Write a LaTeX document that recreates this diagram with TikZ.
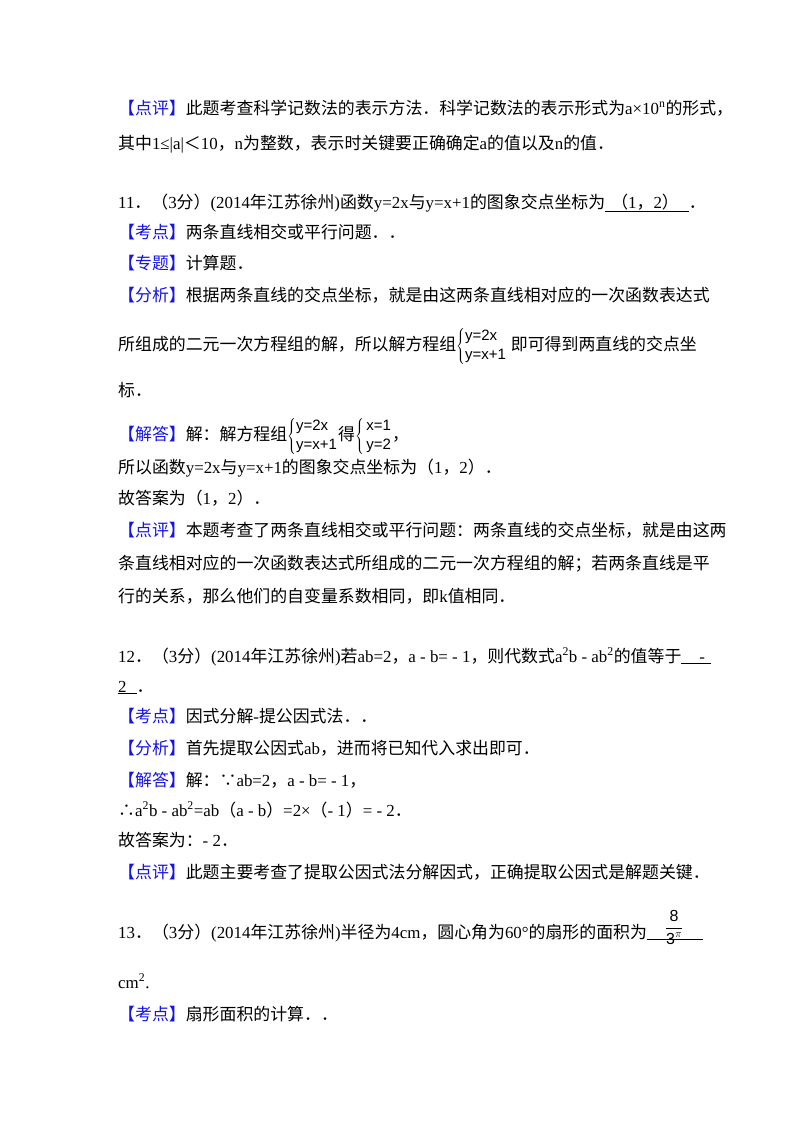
\documentclass[tikz,border=0pt]{standalone}
\usepackage{fontspec}
\setmainfont{Liberation Serif}
\newfontfamily\cjk{Noto Sans CJK SC}
\newfontfamily\latn{Liberation Serif}
\newfontfamily\sysf{Liberation Sans}
\newcount\cc
\def\setcls#1#2{\cc=#1 \loop\ifnum\cc<#2 \XeTeXcharclass\cc=1 \advance\cc by 1 \repeat}
\setcls{"4E00}{"A000}
\setcls{"3000}{"3040}
\setcls{"FF00}{"FFF0}
\XeTeXinterchartokenstate=1
\XeTeXinterchartoks 0 1 {\cjk}
\XeTeXinterchartoks 1 0 {\latn}
\definecolor{tagblue}{RGB}{20,20,230}
\newcommand\tg[1]{{\cjk\color{tagblue}【#1】}\cjk}
\newcommand\sys[2]{{\sysf\fontsize{15}{16}\selectfont$\left\{\begin{tabular}{@{}l@{}}#1\\[3pt]#2\end{tabular}\right.$}\cjk}
\tikzset{ln/.style={anchor=base west,inner sep=0pt,font=\fontsize{16.9}{20}\selectfont}}
\begin{document}
\begin{tikzpicture}[x=1pt,y=-1pt]
\useasboundingbox[fill=white] (0,0) rectangle (800,1132);
\node[ln] (a1) at (118,114) {\tg{点评}此题考查科学记数法的表示方法．科学记数法的表示形式为\latn a×10\textsuperscript{n}\cjk 的形式，};
\node[ln] (a2) at (118,149) {\cjk 其中1≤|a|{\cjk ＜}10，n为整数，表示时关键要正确确定a的值以及n的值．};
\node[ln] (b1) at (118,208) {11．（3分）(2014年江苏徐州)函数y=2x与y=x+1的图象交点坐标为\underline{\hspace{6pt}\cjk（1，2）\hspace{10pt}}\cjk．};
\node[ln] (b2) at (118,238) {\tg{考点}两条直线相交或平行问题．．};
\node[ln] (b3) at (118,269) {\tg{专题}计算题．};
\node[ln] (b4) at (118,301) {\tg{分析}根据两条直线的交点坐标，就是由这两条直线相对应的一次函数表达式};
\node[ln] (b5) at (118,350) {\cjk 所组成的二元一次方程组的解，所以解方程组\sys{y=2x}{y=x+1} 即可得到两直线的交点坐};
\node[ln] (b6) at (118,396) {\cjk 标．};
\node[ln] (b7) at (118,440) {\tg{解答}解：解方程组\sys{y=2x}{y=x+1}得\sys{\,x=1}{\,y=2}，};
\node[ln] (b8) at (118,473) {\cjk 所以函数y=2x与y=x+1的图象交点坐标为（1，2）．};
\node[ln] (b9) at (118,504) {\cjk 故答案为（1，2）．};
\node[ln] (b10) at (118,536) {\tg{点评}本题考查了两条直线相交或平行问题：两条直线的交点坐标，就是由这两};
\node[ln] (b11) at (118,569) {\cjk 条直线相对应的一次函数表达式所组成的二元一次方程组的解；若两条直线是平};
\node[ln] (b12) at (118,602) {\cjk 行的关系，那么他们的自变量系数相同，即k值相同．};
\node[ln] (c1) at (118,662) {12．（3分）(2014年江苏徐州)若ab=2，a - b= - 1，则代数式\latn a\textsuperscript{2}b - ab\textsuperscript{2}\cjk 的值等于\underline{\hspace{18pt}\latn -\hspace{6pt}}};
\node[ln] (c2) at (118,692) {\underline{2\hspace{10pt}}\cjk．};
\node[ln] (c3) at (118,722) {\tg{考点}因式分解-提公因式法．．};
\node[ln] (c4) at (118,754) {\tg{分析}首先提取公因式ab，进而将已知代入求出即可．};
\node[ln] (c5) at (118,786) {\tg{解答}解：{\cjk ∵}\latn ab=2\cjk，\latn a - b= - 1\cjk，};
\node[ln] (c6) at (118,816) {{\cjk ∴}a\textsuperscript{2}b - ab\textsuperscript{2}=ab\cjk（\latn a - b\cjk）\latn =2×\cjk（\latn - 1\cjk）\latn = - 2\cjk．};
\node[ln] (c7) at (118,846) {\cjk 故答案为：\latn - 2\cjk．};
\node[ln] (c8) at (118,878) {\tg{点评}此题主要考查了提取公因式法分解因式，正确提取公因式是解题关键．};
\node[ln] (d1) at (118,938) {13．（3分）(2014年江苏徐州)半径为4cm，圆心角为60°的扇形的面积为\underline{\hspace{18pt}\smash{\raisebox{5pt}{\sysf\fontsize{16}{16}\selectfont$\displaystyle{\mbox{8}\over\mbox{3}^{\pi}}$}}\hspace{20pt}}};
\node[ln] (d2) at (118,988) {cm\textsuperscript{2}.};
\node[ln] (d3) at (118,1020) {\tg{考点}扇形面积的计算．．};
\end{tikzpicture}
\end{document}
